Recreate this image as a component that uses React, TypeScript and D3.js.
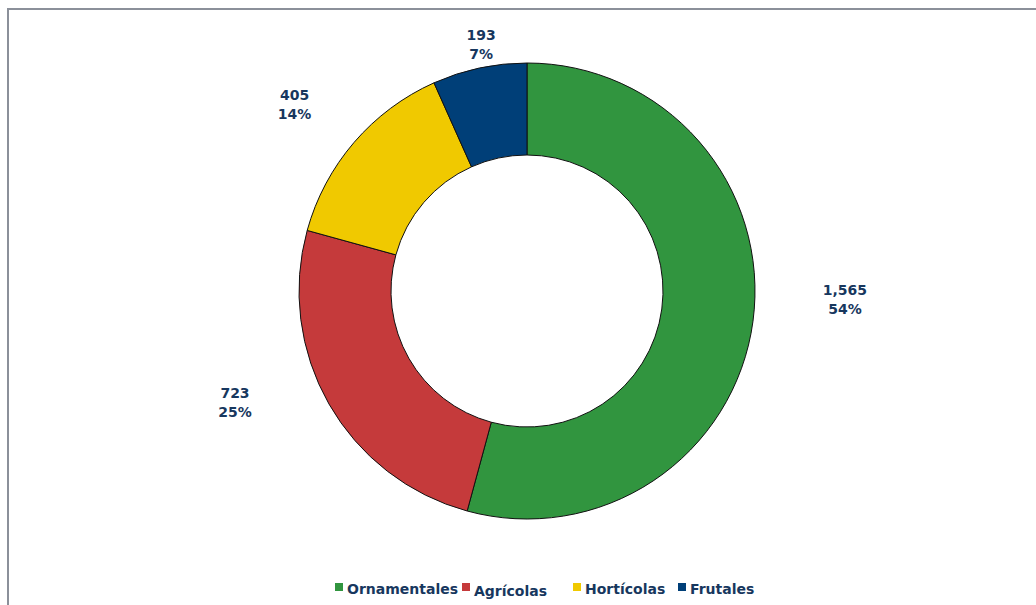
import React from "react";
import * as d3 from "d3";

const categories = ["Ornamentales", "Agrícolas", "Hortícolas", "Frutales"];
const values = [1565, 723, 405, 193];
const colors = ["#31953f", "#c53a3b", "#f0c900", "#003f78"];
// label placement (layout): angle in degrees clockwise from top, radius as factor of outer radius
const labelAngles = [91.35, 249.2, 308.9, 349.5];
const labelRadii = [1.395, 1.37, 1.31, 1.104];
// legend layout
const legendX = [335, 462, 573, 678];
const legendDy = [0, 2, 0, 0];

const W = 1036;
const H = 605;
const cx = 527;
const cy = 291;
const rOuter = 228;
const rInner = 136;
const textColor = "#17375e";
const font = "'DejaVu Sans', Verdana, sans-serif";

export default function App() {
  const total = d3.sum(values);
  const pie = d3.pie<number>().sort(null).value((d) => d);
  const arcs = pie(values);
  const arc = d3.arc<d3.PieArcDatum<number>>().innerRadius(rInner).outerRadius(rOuter);
  const fmtN = d3.format(",");
  const fmtP = d3.format(".0%");

  return (
    <svg
      width={W}
      height={H}
      style={{ position: "absolute", left: 0, top: 0, background: "#fff" }}
      fontFamily={font}
    >
      <rect x={0} y={0} width={W} height={H} fill="#fff" />
      <rect x={8} y={9} width={W + 50} height={H + 50} fill="none" stroke="#8b909a" strokeWidth={2} />
      <g transform={`translate(${cx},${cy})`}>
        {arcs.map((a, i) => (
          <path key={i} d={arc(a) || ""} fill={colors[i]} stroke="#111" strokeWidth={1} />
        ))}
        {arcs.map((a, i) => {
          const th = (labelAngles[i] * Math.PI) / 180;
          const r = rOuter * labelRadii[i];
          const x = Math.sin(th) * r;
          const y = -Math.cos(th) * r;
          return (
            <g key={"l" + i} fill={textColor} fontWeight="bold" fontSize={14} textAnchor="middle">
              <text x={x} y={y - 3.5}>{fmtN(values[i])}</text>
              <text x={x} y={y + 15.5}>{fmtP(values[i] / total)}</text>
            </g>
          );
        })}
      </g>
      <g>
        {categories.map((c, i) => (
          <g key={"lg" + i}>
            <rect x={legendX[i]} y={583} width={8} height={8} fill={colors[i]} />
            <text
              x={legendX[i] + 12}
              y={594 + legendDy[i]}
              fill={textColor}
              fontWeight="bold"
              fontSize={14}
            >
              {c}
            </text>
          </g>
        ))}
      </g>
    </svg>
  );
}
